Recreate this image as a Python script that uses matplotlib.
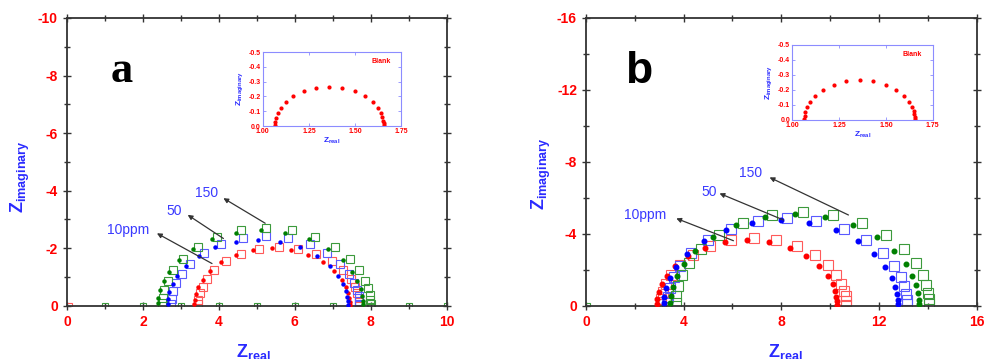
import matplotlib
matplotlib.use("Agg")
import matplotlib.pyplot as plt

plt.rcParams['font.family'] = ['Liberation Sans', 'DejaVu Sans']
plt.rcParams['mathtext.fontset'] = 'custom'
plt.rcParams['mathtext.rm'] = 'Liberation Sans'
plt.rcParams['mathtext.bf'] = 'Liberation Sans:bold'

# ---- panel a : Nyquist data (Z real, Z imaginary) ----
ra_dot_x = [7.45, 7.45, 7.43, 7.40, 7.34, 7.23, 7.04, 6.75, 6.36, 5.90, 5.40, 4.90, 4.44, 4.06, 3.76, 3.57, 3.46, 3.39, 3.36, 3.35]
ra_dot_y = [-0.04, -0.14, -0.28, -0.45, -0.65, -0.91, -1.20, -1.51, -1.77, -1.94, -2.00, -1.94, -1.77, -1.51, -1.20, -0.91, -0.65, -0.42, -0.21, -0.07]
ra_sq_x = [7.70, 7.69, 7.68, 7.65, 7.58, 7.47, 7.27, 6.97, 6.57, 6.09, 5.58, 5.06, 4.58, 4.18, 3.88, 3.68, 3.57, 3.50, 3.46, 3.45]
ra_sq_y = [-0.04, -0.14, -0.29, -0.46, -0.67, -0.93, -1.23, -1.55, -1.81, -1.99, -2.05, -1.99, -1.81, -1.55, -1.23, -0.93, -0.67, -0.43, -0.21, -0.07]
ba_dot_x = [7.40, 7.39, 7.38, 7.34, 7.27, 7.14, 6.92, 6.58, 6.14, 5.60, 5.03, 4.45, 3.91, 3.47, 3.13, 2.91, 2.78, 2.70, 2.66, 2.65]
ba_dot_y = [-0.04, -0.16, -0.32, -0.52, -0.75, -1.04, -1.38, -1.74, -2.03, -2.23, -2.30, -2.23, -2.03, -1.74, -1.38, -1.04, -0.75, -0.48, -0.24, -0.08]
ba_sq_x = [7.70, 7.69, 7.68, 7.64, 7.57, 7.43, 7.20, 6.85, 6.39, 5.82, 5.23, 4.63, 4.06, 3.60, 3.25, 3.02, 2.88, 2.80, 2.76, 2.75]
ba_sq_y = [-0.04, -0.17, -0.34, -0.55, -0.79, -1.10, -1.46, -1.83, -2.14, -2.35, -2.42, -2.35, -2.14, -1.83, -1.46, -1.10, -0.79, -0.50, -0.25, -0.08]
ga_dot_x = [7.80, 7.79, 7.77, 7.73, 7.65, 7.51, 7.26, 6.87, 6.37, 5.75, 5.10, 4.45, 3.83, 3.33, 2.94, 2.69, 2.55, 2.46, 2.41, 2.40]
ga_dot_y = [-0.05, -0.18, -0.36, -0.59, -0.85, -1.19, -1.58, -1.98, -2.31, -2.54, -2.62, -2.54, -2.31, -1.98, -1.58, -1.19, -0.85, -0.54, -0.27, -0.09]
ga_sq_x = [8.00, 7.99, 7.97, 7.93, 7.85, 7.70, 7.45, 7.05, 6.54, 5.92, 5.25, 4.58, 3.96, 3.45, 3.05, 2.80, 2.65, 2.56, 2.52, 2.50]
ga_sq_y = [-0.05, -0.19, -0.38, -0.61, -0.88, -1.23, -1.62, -2.04, -2.38, -2.62, -2.70, -2.62, -2.38, -2.04, -1.62, -1.23, -0.88, -0.56, -0.28, -0.09]
a_base_green_x = [1, 2, 3, 4, 5, 6, 7, 8, 9, 10]
a_base_red_x = [0.05]

# ---- panel b ----
rb_dot_x = [10.30, 10.29, 10.26, 10.21, 10.10, 9.90, 9.55, 9.03, 8.34, 7.50, 6.60, 5.70, 4.86, 4.17, 3.65, 3.30, 3.10, 2.98, 2.92, 2.90]
rb_dot_y = [-0.06, -0.25, -0.51, -0.82, -1.19, -1.66, -2.20, -2.75, -3.22, -3.54, -3.65, -3.54, -3.22, -2.75, -2.20, -1.66, -1.19, -0.76, -0.38, -0.13]
rb_sq_x = [10.67, 10.66, 10.63, 10.57, 10.46, 10.26, 9.90, 9.36, 8.65, 7.79, 6.87, 5.95, 5.09, 4.38, 3.84, 3.48, 3.28, 3.15, 3.09, 3.07]
rb_sq_y = [-0.07, -0.26, -0.53, -0.85, -1.23, -1.72, -2.27, -2.85, -3.34, -3.67, -3.78, -3.67, -3.34, -2.85, -2.27, -1.72, -1.23, -0.79, -0.40, -0.13]
bb_dot_x = [12.78, 12.77, 12.73, 12.66, 12.52, 12.26, 11.81, 11.13, 10.23, 9.14, 7.98, 6.82, 5.73, 4.83, 4.15, 3.70, 3.44, 3.29, 3.21, 3.18]
bb_dot_y = [-0.08, -0.33, -0.66, -1.07, -1.55, -2.17, -2.87, -3.60, -4.21, -4.63, -4.77, -4.63, -4.21, -3.60, -2.87, -2.17, -1.55, -0.99, -0.50, -0.17]
bb_sq_x = [13.16, 13.15, 13.11, 13.03, 12.89, 12.62, 12.17, 11.47, 10.55, 9.43, 8.24, 7.05, 5.93, 5.01, 4.31, 3.86, 3.59, 3.43, 3.35, 3.32]
bb_sq_y = [-0.09, -0.34, -0.68, -1.09, -1.58, -2.21, -2.92, -3.67, -4.29, -4.72, -4.86, -4.72, -4.29, -3.67, -2.92, -2.21, -1.58, -1.01, -0.51, -0.17]
gb_dot_x = [13.65, 13.64, 13.60, 13.52, 13.37, 13.09, 12.62, 11.90, 10.94, 9.78, 8.55, 7.32, 6.16, 5.20, 4.48, 4.01, 3.73, 3.56, 3.48, 3.45]
gb_dot_y = [-0.09, -0.35, -0.71, -1.14, -1.65, -2.31, -3.06, -3.83, -4.49, -4.93, -5.08, -4.93, -4.49, -3.83, -3.06, -2.31, -1.65, -1.06, -0.53, -0.18]
gb_sq_x = [14.07, 14.06, 14.02, 13.94, 13.79, 13.50, 13.02, 12.28, 11.31, 10.13, 8.87, 7.61, 6.43, 5.46, 4.72, 4.24, 3.95, 3.78, 3.70, 3.67]
gb_sq_y = [-0.09, -0.36, -0.73, -1.17, -1.70, -2.37, -3.14, -3.94, -4.61, -5.07, -5.22, -5.07, -4.61, -3.94, -3.14, -2.37, -1.70, -1.09, -0.55, -0.18]
b_base_green_x = [0.05]

# ---- inset (blank) ----
blank_x = [1.655, 1.654, 1.652, 1.647, 1.639, 1.623, 1.596, 1.554, 1.499, 1.431, 1.360, 1.289, 1.221, 1.166, 1.124, 1.097, 1.081, 1.071, 1.067, 1.065]
blank_y = [-0.005, -0.018, -0.037, -0.060, -0.086, -0.120, -0.159, -0.200, -0.234, -0.257, -0.265, -0.257, -0.234, -0.200, -0.159, -0.120, -0.086, -0.055, -0.028, -0.009]

# ticks
a_xticks = [0, 2, 4, 6, 8, 10]
a_xlabels = ['0', '2', '4', '6', '8', '10']
a_yticks = [0, -2, -4, -6, -8, -10]
a_ylabels = ['0', '-2', '-4', '-6', '-8', '-10']
b_xticks = [0, 4, 8, 12, 16]
b_xlabels = ['0', '4', '8', '12', '16']
b_yticks = [0, -4, -8, -12, -16]
b_ylabels = ['0', '-4', '-8', '-12', '-16']
ins_xticks = [1.00, 1.25, 1.50, 1.75]
ins_xlabels = ['1.00', '1.25', '1.50', '1.75']
ins_yticks = [0, -0.1, -0.2, -0.3, -0.4, -0.5]
ins_ylabels = ['0.0', '-0.1', '-0.2', '-0.3', '-0.4', '-0.5']

# concentration labels: (text, label x, label y, arrow start x, arrow start y, arrow end x, arrow end y)
a_notes = [('150', 3.68, -3.92, 5.22, -2.87, 4.12, -3.74),
           ('50', 2.82, -3.30, 4.12, -2.34, 3.18, -3.16),
           ('10ppm', 1.61, -2.64, 3.82, -1.47, 2.37, -2.52)]
b_notes = [('150', 6.73, -7.37, 10.75, -5.05, 7.52, -7.14),
           ('50', 5.05, -6.35, 8.09, -4.77, 5.47, -6.25),
           ('10ppm', 2.43, -5.05, 6.04, -3.62, 3.70, -4.86)]

RED, BLUE, GREEN = '#ff0000', '#0000ff', '#008000'
SQ_RED, SQ_BLUE, SQ_GREEN = '#ff5a5a', '#5a5aff', '#3c9a3c'
LAB_BLUE = '#2a2aff'


def style_main(ax, xmax, ymax, xt, xl, yt, yl, xminor, yminor):
    ax.set_xlim(0, xmax)
    ax.set_ylim(0, -ymax)
    ax.set_xticks(xt)
    ax.set_xticklabels(xl, color='red', fontweight='bold', fontsize=10)
    ax.set_yticks(yt)
    ax.set_yticklabels(yl, color='red', fontweight='bold', fontsize=10)
    ax.set_xticks(xminor, minor=True)
    ax.set_yticks(yminor, minor=True)
    ax.tick_params(which='both', direction='inout', top=True, right=True,
                   color='#333333', width=1.0)
    ax.tick_params(which='major', length=6)
    ax.tick_params(which='minor', length=4)
    for s in ax.spines.values():
        s.set_color('#333333')
        s.set_linewidth(1.3)
    ax.set_ylabel(r'$\mathbf{Z}_{\mathbf{imaginary}}$', color=LAB_BLUE, fontsize=13)
    ax.set_xlabel(r'$\mathbf{Z}_{\mathbf{real}}$', color=LAB_BLUE, fontsize=13)


def draw_series(ax, dots, sqs, dot_ms, sq_ms):
    for (x, y, c) in dots:
        ax.plot(x, y, 'o', color=c, ms=dot_ms, mec=c, ls='none', zorder=3)
    for (x, y, c) in sqs:
        ax.plot(x, y, 's', mfc='none', mec=c, ms=sq_ms, mew=0.8, ls='none', zorder=2)


def draw_notes(ax, notes):
    for (t, lx, ly, sx, sy, ex, ey) in notes:
        ax.text(lx, ly, t, color='#3a3aff', fontsize=10, ha='center', va='center')
        ax.annotate('', xy=(ex, ey), xytext=(sx, sy),
                    arrowprops=dict(arrowstyle='-|>', color='#333333', lw=0.9,
                                    mutation_scale=7, shrinkA=0, shrinkB=0))


def draw_inset(fig, rect):
    ins = fig.add_axes(rect)
    ins.plot(blank_x, blank_y, 'o', color=RED, ms=2.0, ls='none')
    ins.set_xlim(1.0, 1.75)
    ins.set_ylim(0, -0.5)
    ins.set_xticks(ins_xticks)
    ins.set_xticklabels(ins_xlabels, color='red', fontweight='bold', fontsize=5)
    ins.set_yticks(ins_yticks)
    ins.set_yticklabels(ins_ylabels, color='red', fontweight='bold', fontsize=5)
    ins.tick_params(which='both', direction='in', top=True, right=True,
                    length=2, width=0.6, color='#8c8cff', pad=1.5)
    for s in ins.spines.values():
        s.set_color('#8c8cff')
        s.set_linewidth(0.8)
    ins.text(1.64, -0.435, 'Blank', color='red', fontsize=5, fontweight='bold',
             ha='center', va='center')
    ins.set_ylabel(r'$\mathbf{Z}_{\mathbf{imaginary}}$', color=LAB_BLUE, fontsize=6, labelpad=2)
    ins.set_xlabel(r'$\mathbf{Z}_{\mathbf{real}}$', color=LAB_BLUE, fontsize=6, labelpad=0.5)
    return ins


fig = plt.figure(figsize=(9.84, 3.59), dpi=100)

# panel a
axa = fig.add_axes([0.068, 0.148, 0.386, 0.802])
style_main(axa, 10, 10, a_xticks, a_xlabels, a_yticks, a_ylabels,
           [1, 3, 5, 7, 9], [-1, -3, -5, -7, -9])
draw_series(axa,
            [(ra_dot_x, ra_dot_y, RED), (ba_dot_x, ba_dot_y, BLUE), (ga_dot_x, ga_dot_y, GREEN)],
            [(ra_sq_x, ra_sq_y, SQ_RED), (ba_sq_x, ba_sq_y, SQ_BLUE), (ga_sq_x, ga_sq_y, SQ_GREEN)],
            2.2, 5.8)
axa.plot(a_base_green_x, [0] * len(a_base_green_x), 's', mfc='none', mec=SQ_GREEN, ms=5, mew=0.8, ls='none')
axa.plot(a_base_red_x, [0] * len(a_base_red_x), 's', mfc='none', mec=SQ_RED, ms=5, mew=0.8, ls='none')
draw_notes(axa, a_notes)
axa.text(0.145, 0.778, 'a', transform=axa.transAxes, fontsize=32, fontweight='bold',
         family='Liberation Serif', ha='center', va='baseline')
axa.yaxis.set_label_coords(-0.093, 0.45)
axa.xaxis.set_label_coords(0.49, -0.125)

# panel b
axb = fig.add_axes([0.5955, 0.148, 0.397, 0.802])
style_main(axb, 16, 16, b_xticks, b_xlabels, b_yticks, b_ylabels,
           [2, 6, 10, 14], [-2, -6, -10, -14])
draw_series(axb,
            [(rb_dot_x, rb_dot_y, RED), (bb_dot_x, bb_dot_y, BLUE), (gb_dot_x, gb_dot_y, GREEN)],
            [(rb_sq_x, rb_sq_y, SQ_RED), (bb_sq_x, bb_sq_y, SQ_BLUE), (gb_sq_x, gb_sq_y, SQ_GREEN)],
            3.3, 6.5)
axb.plot(b_base_green_x, [0] * len(b_base_green_x), 's', mfc='none', mec=SQ_GREEN, ms=5, mew=0.8, ls='none')
draw_notes(axb, b_notes)
axb.text(0.136, 0.774, 'b', transform=axb.transAxes, fontsize=32, fontweight='bold',
         ha='center', va='baseline')
axb.yaxis.set_label_coords(-0.084, 0.46)
axb.xaxis.set_label_coords(0.51, -0.125)

draw_inset(fig, [0.267, 0.649, 0.141, 0.206])
draw_inset(fig, [0.805, 0.666, 0.143, 0.209])

fig.savefig('out.png', dpi=100)
